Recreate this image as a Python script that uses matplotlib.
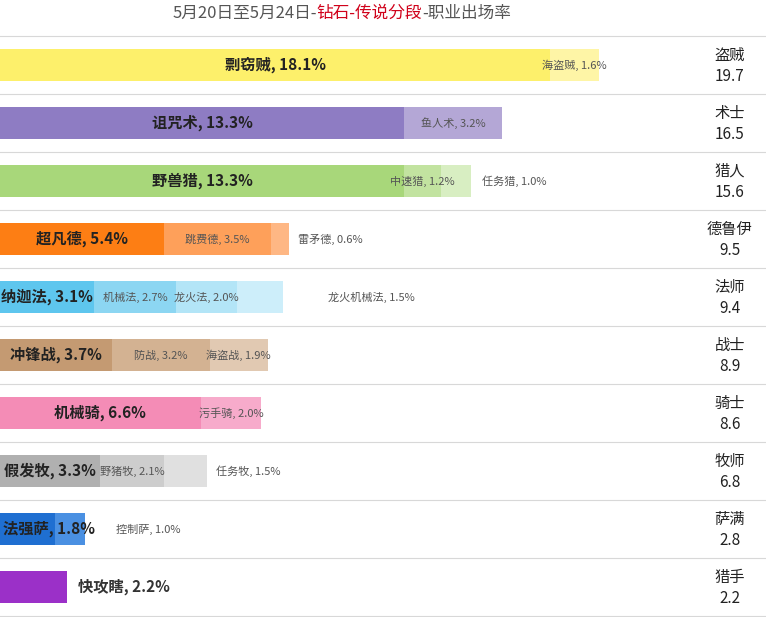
import matplotlib.pyplot as plt
from matplotlib import font_manager

names = {f.name for f in font_manager.fontManager.ttflist}
cjk = [n for n in ['Noto Sans CJK SC', 'Noto Sans CJK JP', 'Noto Sans CJK TC', 'Noto Sans CJK KR'] if n in names]
plt.rcParams['font.family'] = 'sans-serif'
plt.rcParams['font.sans-serif'] = cjk + ['DejaVu Sans']

classes = ['盗贼', '术士', '猎人', '德鲁伊', '法师', '战士', '骑士', '牧师', '萨满', '猎手']
totals = ['19.7', '16.5', '15.6', '9.5', '9.4', '8.9', '8.6', '6.8', '2.8', '2.2']
decks = [['剽窃贼', '海盗贼'], ['诅咒术', '鱼人术'], ['野兽猎', '中速猎', '任务猎'],
         ['超凡德', '跳费德', '雷矛德'], ['纳迦法', '机械法', '龙火法', '龙火机械法'],
         ['冲锋战', '防战', '海盗战'], ['机械骑', '污手骑'], ['假发牧', '野猪牧', '任务牧'],
         ['法强萨', '控制萨'], ['快攻瞎']]
rates = [[18.1, 1.6], [13.3, 3.2], [13.3, 1.2, 1.0], [5.4, 3.5, 0.6], [3.1, 2.7, 2.0, 1.5],
         [3.7, 3.2, 1.9], [6.6, 2.0], [3.3, 2.1, 1.5], [1.8, 1.0], [2.2]]
widths = [[18.1, 1.6], [13.3, 3.2], [13.3, 1.2, 1.0], [5.4, 3.5, 0.6], [3.1, 2.7, 2.0, 1.5],
          [3.7, 3.2, 1.9], [6.6, 2.0], [3.3, 2.1, 1.4], [1.8, 1.0], [2.2]]
colors = [['#fdf06b', '#fef5a6'], ['#8e7cc3', '#b4a7d6'], ['#a8d77a', '#c2e3a0', '#d8eec2'],
          ['#fd7e14', '#fea05a', '#feb784'], ['#5ec6ee', '#8cd6f2', '#b3e5f7', '#cdeefa'],
          ['#c49a72', '#d3b292', '#e1c9b2'], ['#f48cb6', '#f7abcb'], ['#b0b0b0', '#cdcdcd', '#e0e0e0'],
          ['#1f6fd1', '#4a90e2'], ['#9b30c8']]
outside = {'任务猎': 0.35, '雷矛德': 0.3, '龙火机械法': 1.5, '任务牧': 0.3, '控制萨': 1.0}

fig = plt.figure(figsize=(7.66, 6.17), dpi=100)
ax = fig.add_axes([0, 0, 1, 1])
scale = 30.4
ax.set_xlim(0, 766 / scale)
ax.set_ylim((617 - 65) / 58, -65 / 58)
ax.axis('off')

for i in range(len(classes)):
    left = 0
    for d, w, c in zip(decks[i], widths[i], colors[i]):
        ax.barh(i, w, left=left, height=0.55, color=c, edgecolor='none')
        left += w
    end = left
    d0, r0 = decks[i][0], rates[i][0]
    if classes[i] == '猎手':
        ax.text(2.55, i, f'{d0}, {r0}%', ha='left', va='center', fontsize=11, fontweight='bold', color='#333333')
    elif r0 > 3:
        ax.text(r0 / 2, i, f'{d0}, {r0}%', ha='center', va='center', fontsize=11, fontweight='bold', color='#222222')
    else:
        ax.text(0.1, i, f'{d0}, {r0}%', ha='left', va='center', fontsize=11, fontweight='bold', color='#222222')
    left = widths[i][0]
    for d, r, w in zip(decks[i][1:], rates[i][1:], widths[i][1:]):
        if d in outside:
            ax.text(end + outside[d], i, f'{d}, {r}%', ha='left', va='center', fontsize=8, color='#555555')
        else:
            ax.text(left + w / 2, i, f'{d}, {r}%', ha='center', va='center', fontsize=8, color='#555555')
        left += w
    ax.text(24.0, i - 0.17, classes[i], ha='center', va='center', fontsize=11, color='#222222')
    ax.text(24.0, i + 0.2, totals[i], ha='center', va='center', fontsize=11, color='#222222')
    ax.axhline(i - 0.5, color='#d8d8d8', lw=0.8)
ax.axhline(len(classes) - 0.5, color='#d8d8d8', lw=0.8)

parts = [('5月20日至5月24日-', '#555555'), ('钻石-传说分段', '#d0021b'), ('-职业出场率', '#555555')]
x = 0.225
for s, c in parts:
    t = fig.text(x, 0.978, s, fontsize=12, color=c, va='center', ha='left')
    fig.canvas.draw()
    x += t.get_window_extent().width / fig.bbox.width

fig.savefig('out.png', dpi=100)
